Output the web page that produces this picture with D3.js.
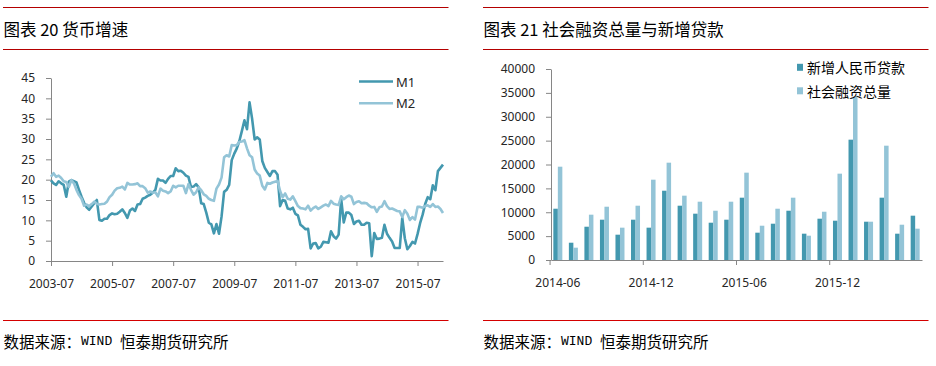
<!DOCTYPE html>
<html>
<head>
<meta charset="utf-8">
<script src="https://cdn.jsdelivr.net/npm/d3@7"></script>
<style>
body { margin: 0; background: #fff; }
svg { display: block; }
.axis path, .axis line { stroke: #868686; }
.axis text { font-family: "Noto Sans", sans-serif; font-size: 12px; fill: #262626; }
.cjk { font-family: "Noto Sans CJK SC", sans-serif; fill: #000; }
</style>
</head>
<body>
<svg id="chart" width="936" height="366"></svg>
<script>
// left chart: M1 / M2 yoy growth, monthly 2003-07 .. 2016-05
var m1 = [19.8, 19.1, 18.7, 19.6, 19.1, 18.7,
  15.8, 19.5, 19.9, 19.6, 19.3, 17.5, 15.8, 14.3, 13.2, 12.6, 13.4, 14.2,
  15.0, 10.1, 9.9, 10.4, 10.4, 11.3, 11.7, 11.5, 11.6, 12.1, 12.7, 11.8,
  10.6, 12.4, 12.9, 12.3, 13.9, 14.0, 15.3, 15.6, 16.0, 16.3, 16.8, 17.5,
  20.2, 19.8, 19.8, 19.2, 20.2, 20.9, 20.9, 22.8, 22.1, 22.2, 21.7, 21.0,
  20.7, 18.2, 18.3, 18.9, 18.1, 14.2, 14.0, 11.9, 9.4, 9.0, 6.8, 9.1,
  6.7, 10.9, 17.0, 17.5, 18.7, 24.8, 26.4, 27.7, 29.5, 32.0, 34.6, 32.4,
  39.0, 35.0, 29.9, 30.4, 29.9, 24.6, 22.9, 21.9, 20.9, 22.1, 22.1, 21.2,
  13.5, 15.0, 14.8, 12.9, 12.7, 13.1, 11.6, 11.2, 8.9, 8.4, 7.8, 7.9,
  3.1, 4.3, 4.4, 3.1, 3.5, 4.7, 4.6, 4.5, 7.3, 6.1, 5.5, 6.5,
  15.3, 9.5, 11.9, 11.9, 11.3, 9.1, 9.7, 9.9, 8.9, 8.9, 9.4, 9.3,
  1.2, 6.9, 5.4, 5.5, 5.7, 8.9, 6.7, 5.7, 4.8, 3.2, 3.2, 3.2,
  10.6, 5.6, 2.9, 3.7, 4.7, 4.3, 6.6, 9.3, 11.4, 14.0, 15.7, 15.2,
  18.6, 17.4, 22.1, 22.9, 23.7];
var m2 = [20.7, 21.6, 20.7, 21.0, 20.4, 19.6,
  19.4, 18.2, 19.9, 19.1, 17.5, 16.2, 15.3, 13.6, 13.9, 13.5, 14.0, 14.6,
  14.1, 13.9, 14.0, 14.1, 14.6, 15.7, 16.3, 17.3, 17.9, 18.0, 18.3, 17.6,
  19.2, 18.8, 18.8, 18.9, 19.1, 18.4, 18.4, 17.9, 16.8, 17.1, 16.8, 16.9,
  15.9, 17.8, 17.3, 17.1, 16.7, 17.1, 18.5, 18.1, 18.5, 18.5, 18.5, 16.7,
  18.9, 17.5, 16.3, 16.9, 18.1, 17.4, 16.4, 16.0, 15.3, 15.0, 14.8, 17.8,
  18.8, 20.5, 25.5, 26.0, 25.7, 28.5, 28.4, 28.5, 29.3, 29.4, 29.7, 27.7,
  26.0, 25.5, 22.5, 21.5, 21.0, 18.5, 17.6, 19.2, 19.0, 19.3, 19.5, 19.7,
  17.2, 15.7, 16.6, 15.3, 15.1, 15.9, 14.7, 13.5, 13.0, 12.9, 12.7, 13.6,
  12.4, 13.0, 13.4, 12.8, 13.2, 13.6, 13.9, 13.5, 14.8, 14.1, 13.9, 13.8,
  15.9, 15.2, 15.7, 16.1, 15.8, 14.0, 14.5, 14.7, 14.2, 14.3, 14.2, 13.6,
  13.2, 13.3, 12.1, 13.2, 13.4, 14.7, 13.5, 12.8, 12.9, 12.6, 12.3, 12.2,
  10.8, 12.5, 11.6, 10.1, 10.8, 10.2, 13.3, 13.3, 13.1, 13.5, 13.7, 13.3,
  14.0, 13.3, 13.4, 12.8, 11.8];
var leftTickLabels = ["2003-07", "2005-07", "2007-07", "2009-07", "2011-07", "2013-07", "2015-07"];
var leftYTicks = [0, 5, 10, 15, 20, 25, 30, 35, 40, 45];

// right chart: new rmb loans / total social financing, 2014-06 .. 2016-05
var months = ["2014-06", "2014-07", "2014-08", "2014-09", "2014-10", "2014-11", "2014-12",
  "2015-01", "2015-02", "2015-03", "2015-04", "2015-05", "2015-06", "2015-07", "2015-08",
  "2015-09", "2015-10", "2015-11", "2015-12", "2016-01", "2016-02", "2016-03", "2016-04", "2016-05"];
var loans = [10740, 3620, 6970, 8440, 5300, 8440, 6770, 14510, 11370, 9700, 7810, 8440,
  13050, 5720, 7600, 10320, 5510, 8650, 8230, 25200, 8020, 13050, 5510, 9280];
var tsf = [19540, 2580, 9490, 11160, 6770, 11370, 16820, 20380, 13470, 12210, 10320, 12210,
  18290, 7180, 10740, 13050, 5090, 10110, 18080, 34200, 8020, 23940, 7390, 6560];
var rightTickLabels = ["2014-06", "2014-12", "2015-06", "2015-12"];
var rightYTicks = [0, 5000, 10000, 15000, 20000, 25000, 30000, 35000, 40000];

var dark = "#4398AF", light = "#93C4D7";

var svg = d3.select("#chart");

// header / footer rules and text
function frame(x0, x1, title) {
  svg.append("line").attr("x1", x0).attr("x2", x1).attr("y1", 7.5).attr("y2", 7.5)
    .attr("stroke", "#b40000").attr("stroke-width", 1.2);
  svg.append("line").attr("x1", x0).attr("x2", x1).attr("y1", 49.5).attr("y2", 49.5)
    .attr("stroke", "#b40000").attr("stroke-width", 1.2);
  svg.append("text").attr("class", "cjk").attr("x", x0 + 0.5).attr("y", 29)
    .attr("dominant-baseline", "central").attr("font-size", 16.5).text(title);
  svg.append("line").attr("x1", x0).attr("x2", x1).attr("y1", 320.5).attr("y2", 320.5)
    .attr("stroke", "#d40000").attr("stroke-width", 1.2);
  var ft = svg.append("text").attr("class", "cjk").attr("x", x0 + 0.5).attr("y", 341)
    .attr("dominant-baseline", "central").attr("font-size", 15.5);
  ft.append("tspan").text("数据来源：");
  ft.append("tspan").attr("font-family", "Liberation Mono, monospace").attr("font-size", 13).text("WIND ");
  ft.append("tspan").text("恒泰期货研究所");
}
frame(3, 448.5, "图表 20 货币增速");
frame(483, 928.5, "图表 21 社会融资总量与新增贷款");

// ---- left line chart
var xL = d3.scaleLinear().domain([0, m1.length - 1]).range([51, 443]);
var yL = d3.scaleLinear().domain([0, 45]).range([261, 78]);

svg.append("g").attr("class", "axis")
  .attr("transform", "translate(51,0)")
  .call(d3.axisLeft(yL).tickValues(leftYTicks).tickSize(5).tickPadding(11).tickSizeOuter(0));

svg.append("g").attr("class", "axis")
  .attr("transform", "translate(0,261)")
  .call(d3.axisBottom(xL).tickValues(d3.range(0, 145, 24)).tickSize(5).tickPadding(13).tickSizeOuter(0)
    .tickFormat(function(d, i) { return leftTickLabels[i]; }));

var line = d3.line()
  .x(function(d, i) { return xL(i); })
  .y(function(d) { return yL(d); });

svg.append("path").datum(m1).attr("d", line)
  .attr("fill", "none").attr("stroke", dark).attr("stroke-width", 2.6).attr("stroke-linejoin", "round");
svg.append("path").datum(m2).attr("d", line)
  .attr("fill", "none").attr("stroke", light).attr("stroke-width", 2.6).attr("stroke-linejoin", "round");

// legend left
var legL = svg.append("g");
[["M1", dark], ["M2", light]].forEach(function(s, i) {
  var y = 81.5 + i * 21.7;
  legL.append("line").attr("x1", 359).attr("x2", 393).attr("y1", y).attr("y2", y)
    .attr("stroke", s[1]).attr("stroke-width", 2.6);
  legL.append("text").attr("x", 396).attr("y", y).attr("dominant-baseline", "central")
    .attr("font-family", "Noto Sans, sans-serif").attr("font-size", 13).attr("fill", "#262626").text(s[0]);
});

// ---- right bar chart
var x0 = d3.scaleBand().domain(months).range([551, 922]).paddingInner(0.42).paddingOuter(0.15);
var x1 = d3.scaleBand().domain(["loans", "tsf"]).range([0, x0.bandwidth()]);
var yR = d3.scaleLinear().domain([0, 40000]).range([260, 69]);

var groups = svg.append("g").selectAll("g")
  .data(months)
  .enter().append("g")
  .attr("transform", function(d) { return "translate(" + x0(d) + ",0)"; });

groups.append("rect")
  .attr("x", x1("loans")).attr("width", x1.bandwidth())
  .attr("y", function(d, i) { return yR(loans[i]); })
  .attr("height", function(d, i) { return yR(0) - yR(loans[i]); })
  .attr("fill", dark);
groups.append("rect")
  .attr("x", x1("tsf")).attr("width", x1.bandwidth())
  .attr("y", function(d, i) { return yR(tsf[i]); })
  .attr("height", function(d, i) { return yR(0) - yR(tsf[i]); })
  .attr("fill", light);

svg.append("g").attr("class", "axis")
  .attr("transform", "translate(551,0)")
  .call(d3.axisLeft(yR).tickValues(rightYTicks).tickFormat(d3.format("d"))
    .tickSize(5).tickPadding(11).tickSizeOuter(0));

var xAxisR = svg.append("g").attr("class", "axis")
  .attr("transform", "translate(0,260)")
  .call(d3.axisBottom(x0).tickValues(rightTickLabels).tickSize(5).tickPadding(13).tickSizeOuter(0));
// ticks sit on the category boundaries, labels stay centred
var shift = -(x0.bandwidth() / 2 + x0.step() * x0.paddingInner() / 2);
xAxisR.selectAll(".tick line").attr("x1", shift).attr("x2", shift);

// legend right
var legR = svg.append("g");
[["新增人民币贷款", dark], ["社会融资总量", light]].forEach(function(s, i) {
  var y = 67.3 + i * 23.5;
  legR.append("rect").attr("x", 797).attr("y", y - 3.5).attr("width", 6).attr("height", 7).attr("fill", s[1]);
  legR.append("text").attr("class", "cjk").attr("x", 807).attr("y", y)
    .attr("dominant-baseline", "central").attr("font-size", 14).text(s[0]);
});
</script>
</body>
</html>
